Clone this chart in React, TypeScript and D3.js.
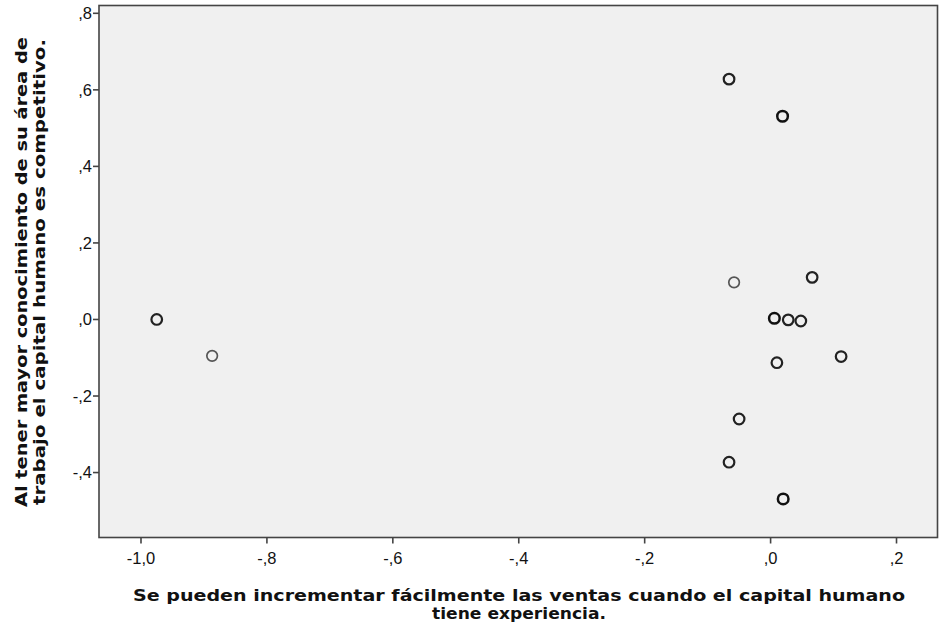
import React from "react";
import * as d3 from "d3";

const xValues = [-0.975, -0.887, -0.066, 0.019, -0.058, 0.066, 0.006, 0.028, 0.048, 0.010, 0.112, -0.050, -0.066, 0.020];
const yValues = [0.000, -0.095, 0.628, 0.531, 0.097, 0.110, 0.003, -0.001, -0.004, -0.113, -0.097, -0.260, -0.373, -0.469];
const counts = [2, 1, 2, 3, 1, 2, 3, 2, 2, 2, 2, 2, 2, 3];
const xTicks = [-1.0, -0.8, -0.6, -0.4, -0.2, 0.0, 0.2];
const yTicks = [-0.4, -0.2, 0.0, 0.2, 0.4, 0.6, 0.8];
const xTitle = ["Se pueden incrementar fácilmente las ventas cuando el capital humano", "tiene  experiencia."];
const yTitle = ["Al tener mayor conocimiento de su área de", "trabajo el capital humano es competitivo."];

function fmt(v: number): string {
  const s = (Math.abs(v) < 1e-9 ? 0 : v).toFixed(1).replace(".", ",");
  return s.replace(/^(-?)0,/, "$1,");
}

export default function App() {
  const W = 941, H = 632;
  const left = 99, right = 937.5, top = 5.5, bottom = 537.5;
  const x = d3.scaleLinear().domain([-1.0667, 0.2651]).range([left, right]);
  const y = d3.scaleLinear().domain([-0.5697, 0.8204]).range([bottom, top]);
  const strokeFor = (c: number) => (c >= 3 ? "#111" : c === 2 ? "#222" : "#555");
  const swFor = (c: number) => (c >= 3 ? 2.5 : c === 2 ? 2.2 : 1.7);
  const tickFont = "Liberation Sans, Arial, sans-serif";
  const titleFont = "DejaVu Sans, Verdana, sans-serif";
  return (
    <svg width={W} height={H} style={{ position: "absolute", left: 0, top: 0, background: "#fff" }}>
      <rect x={left} y={top} width={right - left} height={bottom - top} fill="#f0f0f0" stroke="#444" strokeWidth={1.6} />
      {yTicks.map((t) => (
        <g key={"y" + t}>
          <line x1={left - 6} x2={left} y1={y(t)} y2={y(t)} stroke="#444" strokeWidth={1.6} />
          <text x={left - 7} y={y(t)} dy="0.35em" textAnchor="end" fontFamily={tickFont} fontSize={16.5} fill="#111">{fmt(t)}</text>
        </g>
      ))}
      {xTicks.map((t) => (
        <g key={"x" + t}>
          <line x1={x(t)} x2={x(t)} y1={bottom} y2={bottom + 6} stroke="#444" strokeWidth={1.6} />
          <text x={x(t)} y={bottom + 26} textAnchor="middle" fontFamily={tickFont} fontSize={16.5} fill="#111">{fmt(t)}</text>
        </g>
      ))}
      {xValues.map((xv, i) => (
        <circle key={i} cx={x(xv)} cy={y(yValues[i])} r={5.3} fill="none" stroke={strokeFor(counts[i])} strokeWidth={swFor(counts[i])} />
      ))}
      <text x={519} y={601} textAnchor="middle" fontFamily={titleFont} fontWeight="bold" fontSize={16} fill="#111" textLength={772} lengthAdjust="spacingAndGlyphs">{xTitle[0]}</text>
      <text x={519} y={619} textAnchor="middle" fontFamily={titleFont} fontWeight="bold" fontSize={16} fill="#111" textLength={174} lengthAdjust="spacingAndGlyphs">{xTitle[1]}</text>
      <text transform="translate(27,272) rotate(-90)" textAnchor="middle" fontFamily={titleFont} fontWeight="bold" fontSize={16.5} fill="#111" textLength={470} lengthAdjust="spacingAndGlyphs">{yTitle[0]}</text>
      <text transform="translate(45,272) rotate(-90)" textAnchor="middle" fontFamily={titleFont} fontWeight="bold" fontSize={16.5} fill="#111" textLength={466} lengthAdjust="spacingAndGlyphs">{yTitle[1]}</text>
    </svg>
  );
}
